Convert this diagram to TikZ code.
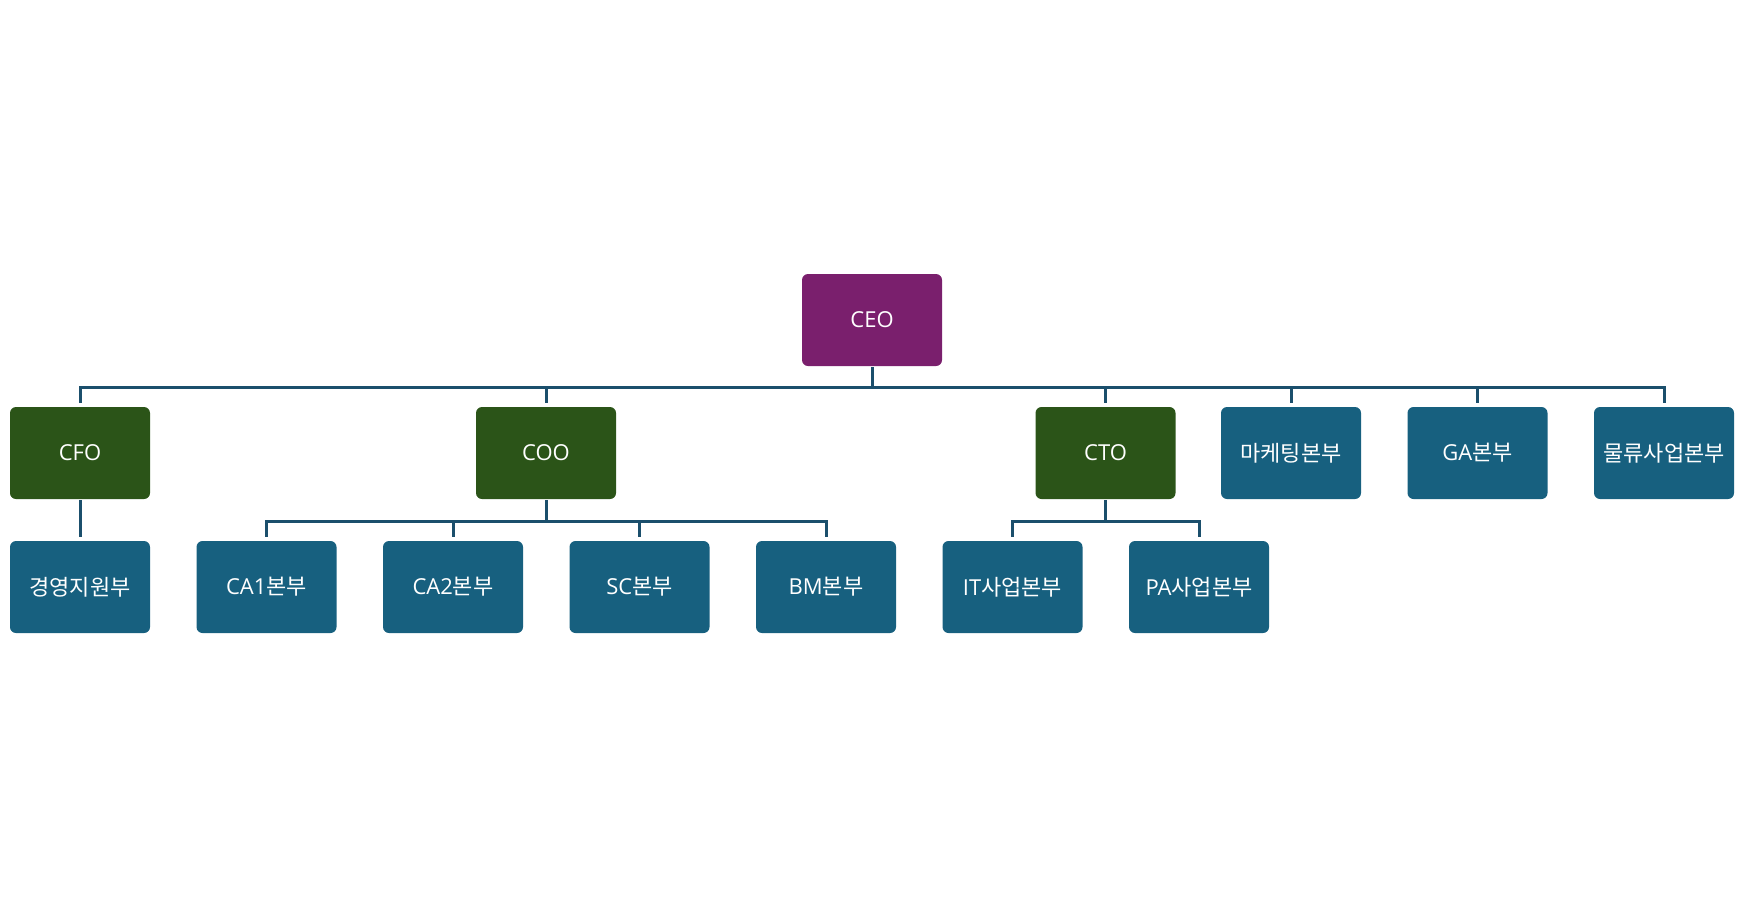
\documentclass[tikz,border=0pt]{standalone}
\usepackage{fontspec}
\setmainfont{Open Sans}
\newfontfamily\kr{Noto Sans CJK KR}
\usetikzlibrary{calc}
\definecolor{cpurple}{HTML}{7A1F6D}
\definecolor{cgreen}{HTML}{2B5418}
\definecolor{cblue}{HTML}{17607F}
\definecolor{cline}{HTML}{1B4F6C}
\tikzset{
  every picture/.style={x=1pt, y=1pt, font=\fontsize{22}{26}\selectfont},
  unit/.style={fill=#1, text=white, rounded corners=6pt, align=center, inner sep=0pt,
    minimum width=140pt, minimum height=92pt},
  unit/.default=cblue,
  link/.style={draw=cline, line width=3pt, shorten <=1pt, shorten >=4pt},
}

\begin{document}
\begin{tikzpicture}
  \useasboundingbox (0,0) rectangle (1744,-906);
  \node[unit=cpurple] (ceo) at (872,-320) {CEO};
  % second row
  \foreach \n/\x/\lab/\col in {cfo/80/CFO/cgreen, coo/546/COO/cgreen, cto/1105.5/CTO/cgreen,
      mkt/1291/{\kr 마케팅본부}/cblue, ga/1477.5/GA{\kr 본부}/cblue, logi/1664/{\kr 물류사업본부}/cblue}
    \node[unit=\col] (\n) at (\x,-453) {\lab};
  % third row
  \foreach \n/\x/\lab in {mgmt/80/{\kr 경영지원부}, ca1/266.5/CA1{\kr 본부}, ca2/453/CA2{\kr 본부},
      sc/639.5/SC{\kr 본부}, bm/826/BM{\kr 본부}, it/1012.5/IT{\kr 사업본부}, pa/1199/PA{\kr 사업본부}}
    \node[unit] (\n) at (\x,-587) {\lab};
  \coordinate (busA) at (0,-387);
  \coordinate (busB) at (0,-521);
  \foreach \c in {cfo,coo,cto,mkt,ga,logi}
    \draw[link] (ceo.south) |- (busA -| \c.north) -- (\c.north);
  \draw[link] (cfo.south) -- (mgmt.north);
  \foreach \c in {ca1,ca2,sc,bm}
    \draw[link] (coo.south) |- (busB -| \c.north) -- (\c.north);
  \foreach \c in {it,pa}
    \draw[link] (cto.south) |- (busB -| \c.north) -- (\c.north);
\end{tikzpicture}
\end{document}
